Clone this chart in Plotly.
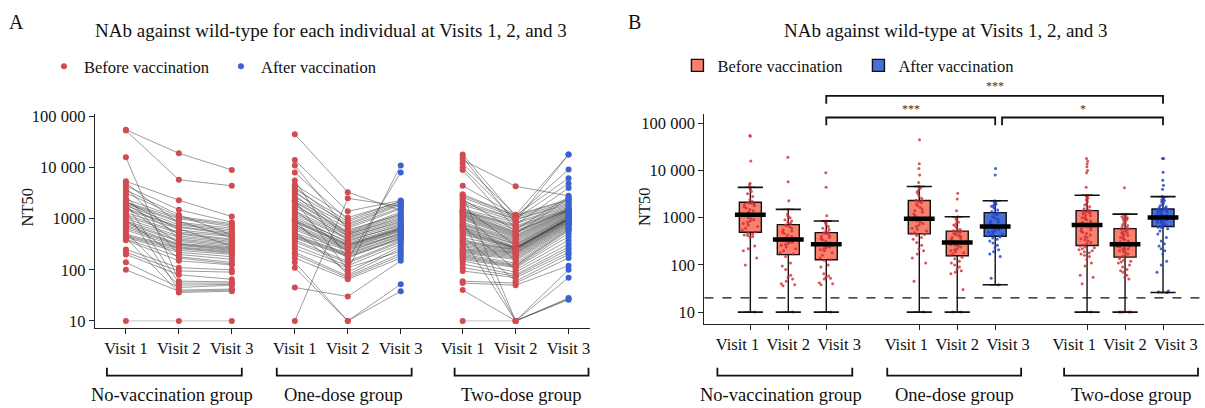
import numpy as np
import plotly.graph_objects as go

W, H = 1205, 408
FONT = "Liberation Serif"

VISITS = ["Visit 1", "Visit 2", "Visit 3"]
GROUPS = ["No-vaccination group", "One-dose group", "Two-dose group"]
LEGEND_NAMES = ["Before vaccination", "After vaccination"]

# ---- individual NT50 values (same individual order within each group) ----
NV_V1 = [55000, 53000, 16000, 5400, 5000, 4400, 4000, 3600, 3200, 2800, 2400, 2200, 2100, 2050, 2000, 1950,
         1900, 1800, 1700, 1600, 1500, 1400, 1300, 1200, 1100, 1000, 950, 900, 850, 800, 750, 700, 650, 600,
         550, 500, 470, 450, 430, 420, 400, 380, 250, 220, 200, 140, 100, 10]
NV_V2 = [19000, 5800, 60, 2300, 800, 1500, 400, 1200, 1100, 200, 1050, 600, 1000, 900, 55, 850, 500, 760, 330,
         700, 680, 40, 640, 550, 520, 460, 170, 430, 380, 360, 320, 310, 300, 280, 50, 270, 260, 240, 220, 36,
         180, 150, 110, 95, 80, 45, 38, 10]
NV_V3 = [9000, 4400, 58, 1100, 600, 850, 320, 480, 800, 160, 750, 470, 700, 420, 55, 650, 380, 560, 270, 520,
         490, 42, 290, 450, 400, 360, 130, 340, 300, 280, 260, 250, 240, 230, 52, 220, 210, 200, 180, 38, 140,
         125, 100, 90, 65, 50, 40, 10]

OD_V1 = [45000, 14000, 11000, 8000, 5600, 4600, 4200, 3800, 3500, 3200, 2900, 2600, 2350, 2300, 2200, 2100,
         1950, 1800, 1650, 1500, 1400, 1300, 1200, 1100, 1000, 960, 940, 920, 880, 850, 800, 750, 700, 650,
         600, 560, 520, 480, 460, 440, 420, 380, 350, 300, 260, 220, 200, 170, 140, 110, 45, 10]
OD_V2 = [3300, 1400, 600, 950, 160, 1050, 700, 880, 500, 800, 440, 750, 650, 100, 560, 530, 380, 515, 480, 220,
         460, 420, 400, 340, 360, 80, 320, 310, 300, 295, 170, 285, 270, 260, 250, 90, 240, 210, 200, 190, 180,
         145, 135, 120, 110, 75, 70, 65, 10, 10, 30, 2500]
OD_V3 = [1450, 2280, 1200, 2200, 8000, 2150, 1650, 2050, 1000, 1950, 850, 1850, 1550, 11000, 1350, 1260, 720,
         1150, 1080, 530, 950, 900, 800, 680, 760, 260, 660, 640, 630, 620, 430, 600, 580, 560, 510, 290, 490,
         470, 450, 410, 390, 370, 350, 320, 230, 210, 190, 170, 52, 38, 150, 1750]

TD_V1 = [18000, 16000, 14000, 12000, 10000, 9000, 4400, 3000, 2900, 2800, 2600, 2400, 2200, 2000, 1850, 1700,
         1550, 1460, 1400, 1390, 1360, 1330, 1300, 1250, 1200, 1150, 1100, 1050, 1000, 950, 900, 850, 800, 770,
         740, 715, 690, 670, 640, 610, 580, 550, 520, 490, 460, 430, 400, 380, 360, 340, 320, 300, 280, 260,
         250, 240, 230, 220, 210, 200, 190, 180, 170, 160, 150, 130, 110, 95, 60, 55, 40, 10]
TD_V2 = [1100, 800, 4300, 1190, 950, 640, 1170, 1150, 10, 1130, 1050, 580, 1000, 980, 900, 300, 850, 760, 720,
         680, 610, 150, 560, 540, 520, 500, 480, 460, 440, 420, 10, 400, 380, 360, 340, 100, 320, 310, 285, 275,
         270, 268, 265, 260, 60, 255, 10, 250, 245, 240, 230, 220, 215, 210, 200, 190, 180, 170, 160, 135, 125,
         120, 115, 110, 90, 80, 75, 70, 55, 50, 10, 10]
TD_V3 = [9200, 1700, 2800, 18000, 1900, 1520, 2400, 6200, 100, 2300, 2150, 1510, 4900, 2000, 18000, 1070, 1800,
         4000, 1620, 1560, 2700, 660, 1500, 1480, 1460, 2500, 1430, 1400, 1360, 1320, 70, 1280, 1240, 1200, 1160,
         380, 1130, 1100, 1040, 1020, 1010, 1005, 1000, 990, 200, 975, 28, 960, 940, 920, 900, 880, 860, 830,
         800, 780, 750, 720, 690, 630, 610, 580, 520, 450, 320, 280, 250, 220, 170, 120, 27, 26]

# visit index that is "after vaccination" per group (None = none)
AFTER_VISIT = [None, 2, 2]

Y_TICKVALS = [10, 100, 1000, 10000, 100000]
Y_TICKTEXT = ["10", "100", "1000", "10 000", "100 000"]
STARS = ["***", "***", "*"]
LOD = 20
FLOOR = 10   # lowest reported titre

# ---- styling / layout positions ----
RED = "#D14B50"
BLUE = "#3A62D0"
BOX_RED = "#F8806D"
BOX_BLUE = "#4670D8"
PT_RED = "rgba(205,45,50,0.8)"
PT_BLUE = "rgba(35,70,200,0.85)"
LEFT_POS = [[0, 1, 2], [3.19, 4.19, 5.19], [6.36, 7.36, 8.36]]
RIGHT_POS = [[0, 1, 2], [4.45, 5.45, 6.45], [8.87, 9.87, 10.87]]
RIGHT_LABEL_SPREAD = 1.34   # visit labels in panel B are spread wider than the boxes

data = [(NV_V1, NV_V2, NV_V3), (OD_V1, OD_V2, OD_V3), (TD_V1, TD_V2, TD_V3)]


def px(xp):
    return xp / W


def py(yp):
    return 1 - yp / H


fig = go.Figure()

# ---------------- Panel A: paired lines ----------------
dark_x, dark_y, light_x, light_y = [], [], [], []
for g, visits in enumerate(data):
    for i in range(len(visits[0])):
        for k in range(2):
            a, b = visits[k][i], visits[k + 1][i]
            seg_x = [LEFT_POS[g][k], LEFT_POS[g][k + 1], None]
            seg_y = [a, b, None]
            if a == FLOOR and b == FLOOR:
                light_x += seg_x
                light_y += seg_y
            else:
                dark_x += seg_x
                dark_y += seg_y
fig.add_trace(go.Scatter(x=light_x, y=light_y, mode="lines", xaxis="x", yaxis="y",
                         line=dict(color="rgba(190,190,190,0.9)", width=1.0),
                         hoverinfo="skip", showlegend=False))
fig.add_trace(go.Scatter(x=dark_x, y=dark_y, mode="lines", xaxis="x", yaxis="y",
                         line=dict(color="rgba(60,60,60,0.72)", width=0.7),
                         hoverinfo="skip", showlegend=False))

shown = set()
for g, visits in enumerate(data):
    for k in range(3):
        after = AFTER_VISIT[g] == k
        name = LEGEND_NAMES[1] if after else LEGEND_NAMES[0]
        fig.add_trace(go.Scatter(
            x=[LEFT_POS[g][k]] * len(visits[k]), y=visits[k], mode="markers",
            xaxis="x", yaxis="y", name=name, legendgroup=name, legend="legend",
            showlegend=name not in shown,
            marker=dict(color=BLUE if after else RED, size=6)))
        shown.add(name)


# ---------------- Panel B: box plots ----------------
def box_stats(v):
    a = np.sort(np.asarray(v, dtype=float))
    q1, med, q3 = np.percentile(a, [25, 50, 75])
    iqr = q3 - q1
    lo = a[a >= q1 - 1.5 * iqr].min()
    hi = a[a <= q3 + 1.5 * iqr].max()
    return q1, med, q3, lo, hi


BOX_W = 0.58
shown2 = set()
med_x, med_y, cap_x, cap_y = [], [], [], []
for g, visits in enumerate(data):
    for k in range(3):
        after = AFTER_VISIT[g] == k
        name = LEGEND_NAMES[1] if after else LEGEND_NAMES[0]
        q1, med, q3, lo, hi = box_stats(visits[k])
        xpos = RIGHT_POS[g][k]
        fig.add_trace(go.Box(
            x=[xpos], q1=[q1], median=[med], q3=[q3], lowerfence=[lo], upperfence=[hi],
            xaxis="x2", yaxis="y2", width=BOX_W, name=name, legendgroup=name + "2",
            legend="legend2", showlegend=name not in shown2,
            fillcolor=BOX_BLUE if after else BOX_RED,
            line=dict(color="#111111", width=1.4), boxpoints=False, hoverinfo="skip"))
        shown2.add(name)
        fig.add_trace(go.Box(
            x=[xpos] * len(visits[k]), y=visits[k], xaxis="x2", yaxis="y2", width=BOX_W,
            boxpoints="all", jitter=0.75, pointpos=0, showlegend=False,
            fillcolor="rgba(0,0,0,0)", line=dict(color="rgba(0,0,0,0)", width=0),
            marker=dict(color=PT_BLUE if after else PT_RED, size=3), hoverinfo="skip"))
        med_x.append(xpos)
        med_y.append(med)
        cap_x += [xpos, xpos]
        cap_y += [lo, hi]

fig.add_trace(go.Scatter(x=cap_x, y=cap_y, mode="markers", xaxis="x2", yaxis="y2",
                         marker=dict(symbol="line-ew", size=18, line=dict(color="#111111", width=1.6)),
                         hoverinfo="skip", showlegend=False))
fig.add_trace(go.Scatter(x=med_x, y=med_y, mode="markers", xaxis="x2", yaxis="y2",
                         marker=dict(symbol="line-ew", size=22, line=dict(color="#000000", width=4.5)),
                         hoverinfo="skip", showlegend=False))

# ---------------- axes ----------------
tick_font = dict(family=FONT, size=16.5, color="#111111")
axis_common = dict(showline=True, linecolor="#222222", linewidth=1.4, ticks="outside", ticklen=5,
                   tickwidth=1.2, tickcolor="#222222", showgrid=False, zeroline=False, tickfont=tick_font)

left_ticks = [p for grp in LEFT_POS for p in grp]
right_ticks = [p for grp in RIGHT_POS for p in grp]
right_label_pos = [grp[1] + d * RIGHT_LABEL_SPREAD for grp in RIGHT_POS for d in (-1, 0, 1)]

fig.update_layout(
    xaxis=dict(domain=[px(95), px(590)], range=[-0.585, 8.755], tickvals=left_ticks,
               ticktext=VISITS * 3, anchor="y", tickangle=0, **axis_common),
    yaxis=dict(domain=[py(329), py(110)], type="log", range=[0.866, 5.057], tickvals=Y_TICKVALS,
               ticktext=Y_TICKTEXT, anchor="x", **axis_common),
    xaxis2=dict(domain=[px(705), 1.0], range=[-1.21, 11.95], tickvals=right_ticks,
                showticklabels=False, anchor="y2", **axis_common),
    xaxis3=dict(domain=[px(705), 1.0], range=[-1.21, 11.95], tickvals=right_label_pos,
                ticktext=VISITS * 3, overlaying="x2", anchor="y2", side="bottom", showline=False,
                ticks="outside", ticklen=5, tickcolor="rgba(0,0,0,0)", showgrid=False, zeroline=False,
                tickfont=tick_font, tickangle=0),
    yaxis2=dict(domain=[py(325), py(110)], type="log", range=[0.751, 5.207], tickvals=Y_TICKVALS,
                ticktext=Y_TICKTEXT, anchor="x2", **axis_common),
)
# dummy trace so the label axis is drawn
fig.add_trace(go.Scatter(x=[right_label_pos[0]], y=[None], xaxis="x3", yaxis="y2", mode="markers",
                         showlegend=False, hoverinfo="skip"))

# ---------------- shapes ----------------
shapes = []
shapes.append(dict(type="line", xref="x2 domain", yref="y2", x0=0, x1=1, y0=LOD, y1=LOD,
                   line=dict(color="#111111", width=1.3, dash="dash")))

L_BR = [(107, 242), (277, 412), (455, 589)]
R_BR = [(718, 853), (888, 1022), (1065, 1199)]
for (a, b) in L_BR + R_BR:
    shapes.append(dict(type="path", xref="paper", yref="paper",
                       path=f"M {px(a)},{py(370)} L {px(a)},{py(378)} L {px(b)},{py(378)} L {px(b)},{py(370)}",
                       line=dict(color="#111111", width=1.8)))

sig = [((RIGHT_POS[0][2], RIGHT_POS[2][2]), 92, 100),
       ((RIGHT_POS[0][2], RIGHT_POS[1][2]), 114, 122),
       ((RIGHT_POS[1][2] + 0.18, RIGHT_POS[2][2]), 114, 122)]
for (xa, xb), yt, yb in sig:
    shapes.append(dict(type="path", xref="x2", yref="paper",
                       path=f"M {xa},{py(yb)} L {xa},{py(yt)} L {xb},{py(yt)} L {xb},{py(yb)}",
                       line=dict(color="#111111", width=1.8)))
fig.update_layout(shapes=shapes)

# ---------------- annotations ----------------
ann = []


def text(t, x, y, size, xref="paper", angle=0, color="#111111"):
    ann.append(dict(text=t, x=x, y=y, xref=xref, yref="paper", showarrow=False, textangle=angle,
                    xanchor="center", yanchor="middle",
                    font=dict(family=FONT, size=size, color=color)))


text("A", px(17), py(16), 20)
text("B", px(635), py(16), 20)
text("NAb against wild-type for each individual at Visits 1, 2, and 3", px(331), py(25), 19)
text("NAb against wild-type at Visits 1, 2, and 3", px(947), py(25), 19)
for xc in (28, 645):
    text("NT50", px(xc), py(205), 16.5, angle=-90)
L_LAB = [172, 344, 521]
R_LAB = [782, 955, 1132]
for xc, lab in zip(L_LAB + R_LAB, GROUPS + GROUPS):
    text(lab, px(xc), py(398), 18.5)
star_pos = [((RIGHT_POS[0][2] + RIGHT_POS[2][2]) / 2, 82),
            ((RIGHT_POS[0][2] + RIGHT_POS[1][2]) / 2, 105),
            ((RIGHT_POS[1][2] + 0.18 + RIGHT_POS[2][2]) / 2, 105)]
for (xc, yc), s in zip(star_pos, STARS):
    text(s, xc, py(yc), 12, xref="x2", color="#333333")
fig.update_layout(annotations=ann)

fig.update_layout(
    width=W, height=H, autosize=False,
    margin=dict(l=0, r=0, t=0, b=0),
    paper_bgcolor="white", plot_bgcolor="white",
    boxmode="overlay",
    font=dict(family=FONT, size=16, color="#111111"),
    legend=dict(orientation="h", x=px(44), y=py(62), xanchor="left", yanchor="middle",
                font=dict(family=FONT, size=16.5, color="#111111"), bgcolor="rgba(0,0,0,0)",
                entrywidth=132, entrywidthmode="pixels", itemclick=False, itemdoubleclick=False),
    legend2=dict(orientation="h", x=px(678), y=py(61), xanchor="left", yanchor="middle",
                 font=dict(family=FONT, size=16.5, color="#111111"), bgcolor="rgba(0,0,0,0)",
                 entrywidth=136, entrywidthmode="pixels", itemclick=False, itemdoubleclick=False),
)

fig.write_html("out.html", config={"displayModeBar": False},
               post_script="document.body.style.margin='0px';document.body.style.overflow='hidden';")
